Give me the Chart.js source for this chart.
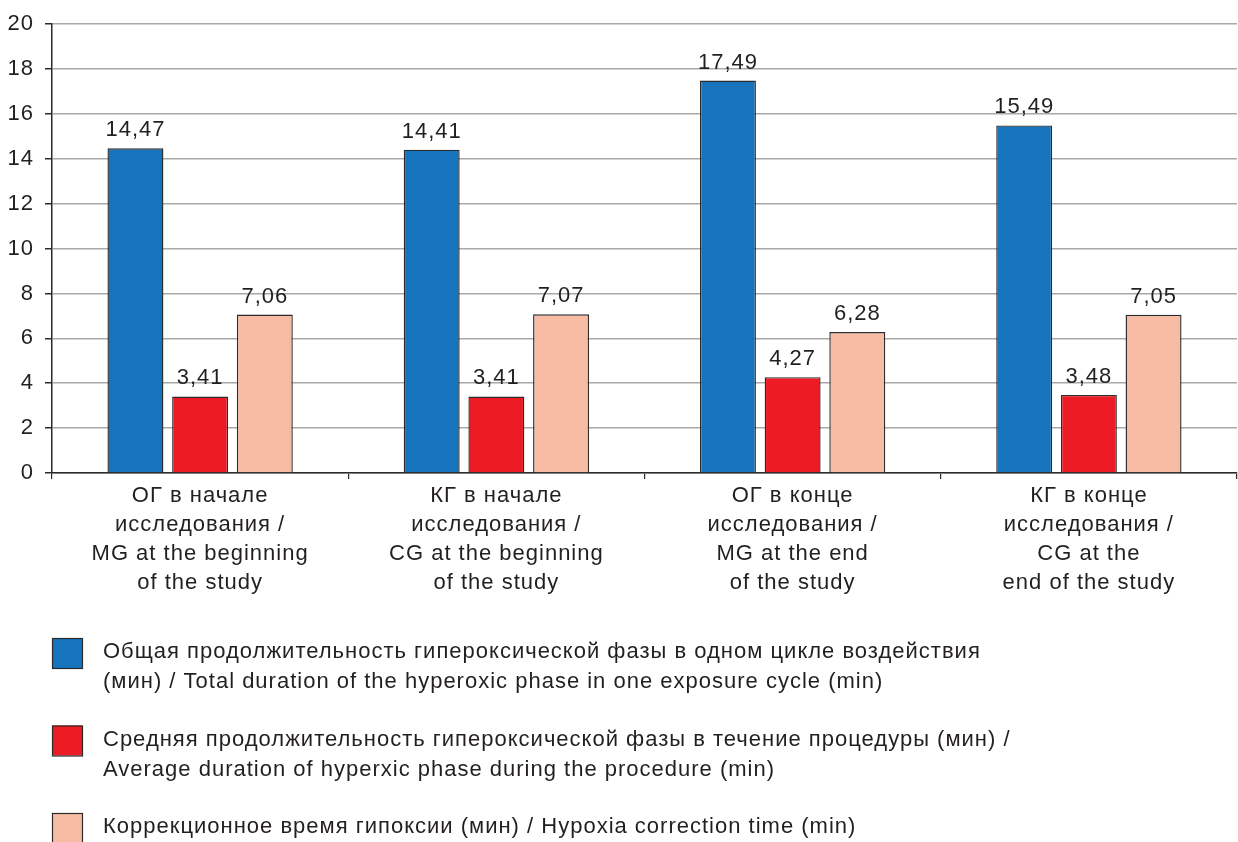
<!DOCTYPE html>
<html>
<head>
<meta charset="utf-8">
<script src="https://cdn.jsdelivr.net/npm/chart.js@4.4.0/dist/chart.umd.min.js"></script>
<style>
  html, body { margin: 0; padding: 0; background: #ffffff; }
  #wrap { width: 1238px; height: 842px; position: relative; }
</style>
</head>
<body>
<div id="wrap"><canvas id="c" width="1238" height="842"></canvas></div>
<script>
// Groups along the x axis (each label split into lines)
const categories = [
  ['ОГ в начале', 'исследования /', 'MG at the beginning', 'of the study'],
  ['КГ в начале', 'исследования /', 'CG at the beginning', 'of the study'],
  ['ОГ в конце', 'исследования /', 'MG at the end', 'of the study'],
  ['КГ в конце', 'исследования /', 'CG at the', 'end of the study']
];

// Series values, minutes
const totalHyperoxic = [14.47, 14.41, 17.49, 15.49];
const averageHyperoxic = [3.41, 3.41, 4.27, 3.48];
const hypoxiaCorrection = [7.06, 7.07, 6.28, 7.05];

// Legend texts (two lines where the entry wraps)
const seriesNames = [
  ['Общая продолжительность гипероксической фазы в одном цикле воздействия',
   '(мин) / Total duration of the hyperoxic phase in one exposure cycle (min)'],
  ['Средняя продолжительность гипероксической фазы в течение процедуры (мин) /',
   'Average duration of hyperxic phase during the procedure (min)'],
  ['Коррекционное время гипоксии (мин) / Hypoxia correction time (min)']
];

// Y axis range
const yMin = 0;
const yMax = 20;
const yStep = 2;

const FONT = "'Liberation Sans', Arial, Helvetica, sans-serif";
const TEXT = '#231f20';
const EDGE = '#2b2b2b';
const SPACING = '1px';
const colors = ['#1574bc', '#ed1c24', '#f8bca5'];

// Slightly looser tracking for every text drawn on the canvas
const tracking = {
  id: 'tracking',
  beforeUpdate(chart) { chart.ctx.letterSpacing = SPACING; },
  beforeDraw(chart) { chart.ctx.letterSpacing = SPACING; }
};

// Value labels above every bar, written with a decimal comma
const valueLabels = {
  id: 'valueLabels',
  afterDatasetsDraw(chart) {
    const ctx = chart.ctx;
    ctx.save();
    ctx.letterSpacing = SPACING;
    ctx.font = '22px ' + FONT;
    ctx.fillStyle = TEXT;
    ctx.textAlign = 'center';
    ctx.textBaseline = 'alphabetic';
    chart.data.datasets.forEach((ds, di) => {
      const meta = chart.getDatasetMeta(di);
      meta.data.forEach((bar, i) => {
        const txt = ds.data[i].toFixed(2).replace('.', ',');
        ctx.fillText(txt, bar.x, bar.y - 12);
      });
    });
    ctx.restore();
  }
};

// Stacked legend under the axis, one swatch per series
const stackedLegend = {
  id: 'stackedLegend',
  afterDraw(chart) {
    const ctx = chart.ctx;
    ctx.save();
    ctx.letterSpacing = SPACING;
    ctx.font = '22px ' + FONT;
    ctx.textAlign = 'left';
    ctx.textBaseline = 'alphabetic';
    const firstTop = 638;
    const gap = 87.5;
    chart.data.datasets.forEach((ds, di) => {
      const top = firstTop + di * gap;
      ctx.fillStyle = ds.backgroundColor;
      ctx.fillRect(52, top, 30, 30);
      ctx.strokeStyle = EDGE;
      ctx.lineWidth = 1.2;
      ctx.strokeRect(52.5, top + 0.5, 30, 30);
      ctx.fillStyle = TEXT;
      seriesNames[di].forEach((ln, k) => {
        ctx.fillText(ln, 103, top + 20 + k * 30);
      });
    });
    ctx.restore();
  }
};

new Chart(document.getElementById('c'), {
  type: 'bar',
  data: {
    labels: categories,
    datasets: [
      { label: seriesNames[0].join(' '), data: totalHyperoxic, backgroundColor: colors[0] },
      { label: seriesNames[1].join(' '), data: averageHyperoxic, backgroundColor: colors[1] },
      { label: seriesNames[2].join(' '), data: hypoxiaCorrection, backgroundColor: colors[2] }
    ].map(d => Object.assign(d, {
      borderColor: EDGE,
      borderWidth: 1.4,
      categoryPercentage: 0.655,
      barPercentage: 0.865
    }))
  },
  options: {
    responsive: false,
    animation: false,
    layout: { padding: { top: 24, right: 1, left: 0, bottom: 0 } },
    plugins: {
      legend: { display: false },
      tooltip: { enabled: false }
    },
    scales: {
      x: {
        offset: true,
        grid: {
          offset: true,
          drawOnChartArea: false,
          drawTicks: true,
          tickLength: 6,
          tickColor: EDGE,
          lineWidth: 1.2
        },
        border: { display: true, color: EDGE, width: 1.5 },
        ticks: {
          color: TEXT,
          font: { family: FONT, size: 22, lineHeight: 1.32 },
          padding: 2,
          maxRotation: 0,
          autoSkip: false
        },
        afterFit(scale) { scale.height = 842 - 473; }
      },
      y: {
        min: yMin,
        max: yMax,
        ticks: {
          stepSize: yStep,
          color: TEXT,
          font: { family: FONT, size: 22 },
          padding: 11
        },
        grid: {
          color: '#a8a8a8',
          lineWidth: 1.5,
          tickLength: 7,
          tickColor: EDGE
        },
        border: { display: true, color: EDGE, width: 1.5 },
        afterFit(scale) { scale.width = 52; }
      }
    }
  },
  plugins: [tracking, valueLabels, stackedLegend]
});
</script>
</body>
</html>
